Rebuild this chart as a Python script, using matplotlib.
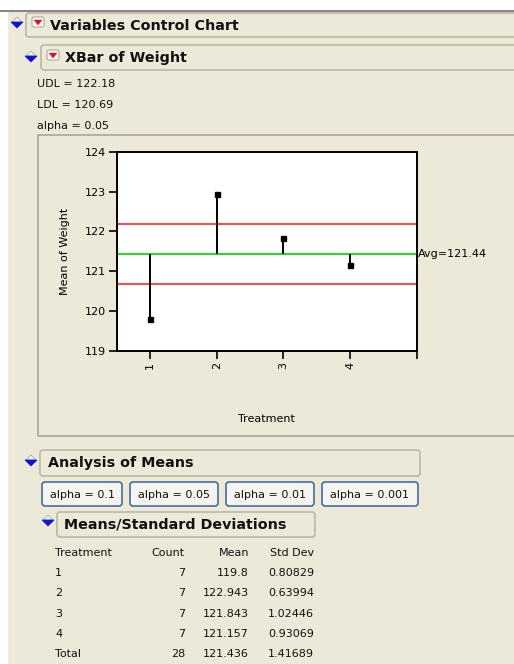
import matplotlib.pyplot as plt
from matplotlib.patches import FancyBboxPatch, Rectangle, Polygon

plt.rcParams['font.family'] = ['DejaVu Sans']

# data
treatments = [1, 2, 3, 4]
counts = [7, 7, 7, 7]
means = [119.8, 122.943, 121.843, 121.157]
std_devs = [0.80829, 0.63994, 1.02446, 0.93069]
total_count = 28
total_mean = 121.436
total_sd = 1.41689
avg = 121.44
udl = 122.18
ldl = 120.69
alphas = ['0.1', '0.05', '0.01', '0.001']

W, H = 514, 664
BG = '#ECE9D8'
FS = 8
HFS = 10.3
fig = plt.figure(figsize=(W / 100, H / 100), dpi=100)
fig.patch.set_facecolor(BG)

# overlay in pixel coords for the window decorations
ov = fig.add_axes([0, 0, 1, 1])
ov.set_xlim(0, W)
ov.set_ylim(H, 0)
ov.axis('off')

ov.add_patch(Rectangle((0, 0), W, 10, color='white', zorder=0))
ov.plot([0, W], [10.5, 10.5], color='#707070', lw=1.2)
ov.add_patch(Rectangle((0, 10), 7, H, color='white', zorder=0))


def disclosure(x, y):
    # small blue down triangle with a light top
    ov.add_patch(Polygon([[x - 5, y - 1], [x + 5, y - 1], [x, y - 6]], closed=True,
                         fc='#f4f4f4', ec='#a0a0a0', lw=0.5, zorder=3))
    ov.add_patch(Polygon([[x - 6, y - 1], [x + 6, y - 1], [x, y + 5]], closed=True,
                         fc='#0a14d8', ec='#0a14d8', lw=0.5, zorder=4))


def red_menu(x, y):
    ov.add_patch(FancyBboxPatch((x - 6, y - 5), 12, 10, boxstyle='round,pad=0,rounding_size=2',
                                fc='white', ec='#b0a890', lw=0.8, zorder=3))
    ov.add_patch(Polygon([[x - 4, y - 2], [x + 4, y - 2], [x, y + 3]], closed=True,
                         fc='#e81010', ec='#e81010', lw=0.3, zorder=4))


def header(x0, x1, y0, y1):
    ov.add_patch(FancyBboxPatch((x0, y0), x1 - x0, y1 - y0, boxstyle='round,pad=0,rounding_size=3',
                                fc=BG, ec='#bcb8a4', lw=1.2, zorder=2))


# title bars
header(26, 530, 13, 37)
disclosure(17, 23)
red_menu(38, 22)
ov.text(50, 25.5, 'Variables Control Chart', fontsize=HFS, fontweight='bold', va='center', color='#111')

header(41, 530, 45, 70)
disclosure(31, 57)
red_menu(53, 55)
ov.text(65, 58, 'XBar of Weight', fontsize=HFS, fontweight='bold', va='center', color='#111')

ov.text(37, 84, 'UDL = %.2f' % udl, fontsize=FS, va='center', color='#111')
ov.text(37, 105, 'LDL = %.2f' % ldl, fontsize=FS, va='center', color='#111')
ov.text(37, 126, 'alpha = 0.05', fontsize=FS, va='center', color='#111')

# chart frame
ov.add_patch(Rectangle((38, 135), 520, 301, fc=BG, ec='#a8a8a0', lw=1.2, zorder=1))

# analysis of means
header(40, 420, 450, 476)
disclosure(31, 461)
ov.text(48, 463, 'Analysis of Means', fontsize=HFS, fontweight='bold', va='center', color='#111')

btn_x = [(42, 122), (130, 218), (226, 314), (322, 418)]
for (bx0, bx1), a in zip(btn_x, alphas):
    ov.add_patch(FancyBboxPatch((bx0, 482), bx1 - bx0, 24, boxstyle='round,pad=0,rounding_size=3',
                                fc='#f5f4ef', ec='#245497', lw=1.0, zorder=2))
    ov.text((bx0 + bx1) / 2, 494.5, 'alpha = ' + a, fontsize=FS, ha='center', va='center', color='#111', zorder=3)

header(57, 315, 512, 537)
disclosure(48, 521)
ov.text(64, 525, 'Means/Standard Deviations', fontsize=HFS, fontweight='bold', va='center', color='#111')

# table
rows_y = [573, 593, 614, 634, 654]
ov.text(55, 553, 'Treatment', fontsize=FS, va='center', color='#111')
ov.text(185, 553, 'Count', fontsize=FS, va='center', ha='right', color='#111')
ov.text(249, 553, 'Mean', fontsize=FS, va='center', ha='right', color='#111')
ov.text(314, 553, 'Std Dev', fontsize=FS, va='center', ha='right', color='#111')
for y, t, c, m, s in zip(rows_y, treatments, counts, means, std_devs):
    ov.text(55, y, str(t), fontsize=FS, va='center', color='#111')
    ov.text(185, y, str(c), fontsize=FS, va='center', ha='right', color='#111')
    ov.text(249, y, ('%.3f' % m).rstrip('0').rstrip('.'), fontsize=FS, va='center', ha='right', color='#111')
    ov.text(314, y, '%.5f' % s, fontsize=FS, va='center', ha='right', color='#111')
ov.text(55, rows_y[-1], 'Total', fontsize=FS, va='center', color='#111')
ov.text(185, rows_y[-1], str(total_count), fontsize=FS, va='center', ha='right', color='#111')
ov.text(249, rows_y[-1], '%.3f' % total_mean, fontsize=FS, va='center', ha='right', color='#111')
ov.text(314, rows_y[-1], '%.5f' % total_sd, fontsize=FS, va='center', ha='right', color='#111')

# the control chart itself
ax = fig.add_axes([116.7 / W, 1 - 351 / H, 300 / W, 199.3 / H])
ax.set_facecolor('white')
ax.set_xlim(0.5, 5)
ax.set_ylim(119, 124)
ax.axhline(udl, color='#ff2a2a', lw=1.2)
ax.axhline(ldl, color='#ff2a2a', lw=1.2)
ax.axhline(avg, color='#22dd22', lw=1.4)
ax.vlines(treatments, avg, means, color='black', lw=1.4)
ax.plot(treatments, means, 's', color='black', ms=3.6)
ax.text(5.02, avg, 'Avg=%.2f' % avg, fontsize=FS, va='center', ha='left', clip_on=False)
for sp in ax.spines.values():
    sp.set_linewidth(1.4)
ax.set_yticks([119, 120, 121, 122, 123, 124])
ax.set_xticks([1, 2, 3, 4, 5])
ax.set_xticklabels(['1', '2', '3', '4', ''], rotation=90)
ax.tick_params(direction='out', length=6, width=1.2, labelsize=FS, pad=2)
ax.set_ylabel('Mean of Weight', fontsize=FS, labelpad=10)
ax.set_xlabel('Treatment', fontsize=FS, labelpad=32)

fig.savefig('out.png', dpi=100, facecolor=BG)
